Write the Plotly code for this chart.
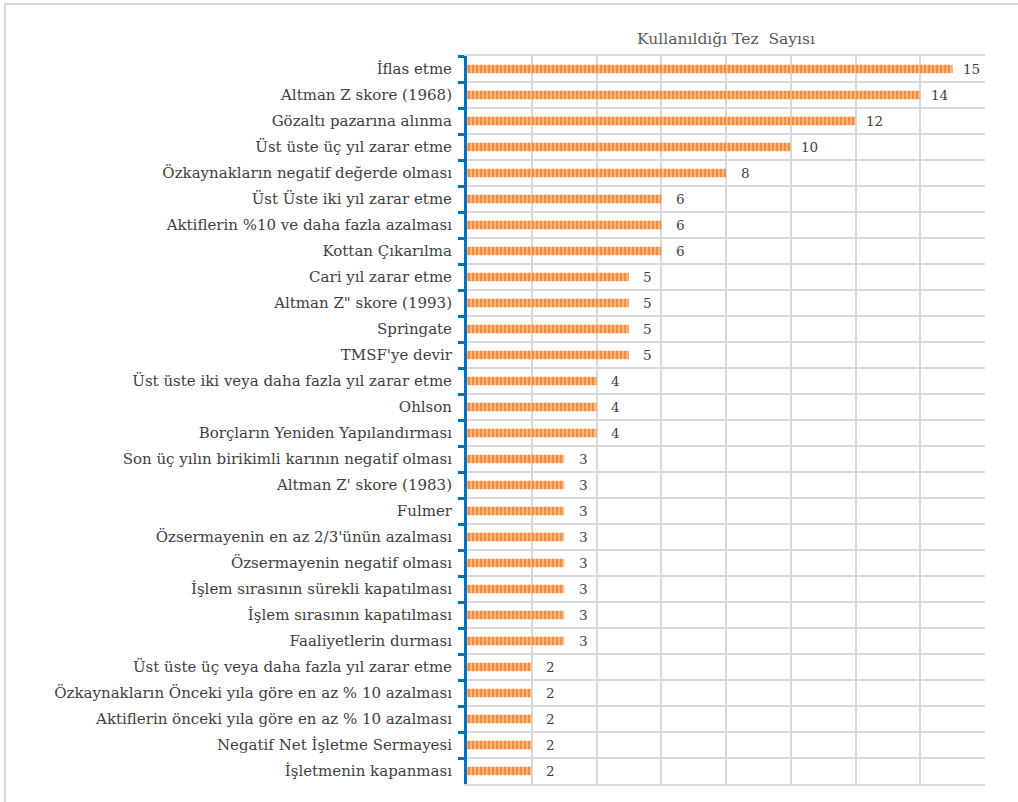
import plotly.graph_objects as go

# Criteria and how many theses used each one
criteria = [
    "İflas etme",
    "Altman Z skore (1968)",
    "Gözaltı pazarına alınma",
    "Üst üste üç yıl zarar etme",
    "Özkaynakların negatif değerde olması",
    "Üst Üste iki yıl zarar etme",
    "Aktiflerin %10 ve daha fazla azalması",
    "Kottan Çıkarılma",
    "Cari yıl zarar etme",
    "Altman Z\" skore (1993)",
    "Springate",
    "TMSF'ye devir",
    "Üst üste iki veya daha fazla yıl zarar etme",
    "Ohlson",
    "Borçların Yeniden Yapılandırması",
    "Son üç yılın birikimli karının negatif olması",
    "Altman Z' skore (1983)",
    "Fulmer",
    "Özsermayenin en az 2/3'ünün azalması",
    "Özsermayenin negatif olması",
    "İşlem sırasının sürekli kapatılması",
    "İşlem sırasının kapatılması",
    "Faaliyetlerin durması",
    "Üst üste üç veya daha fazla yıl zarar etme",
    "Özkaynakların Önceki yıla göre en az % 10 azalması",
    "Aktiflerin önceki yıla göre en az % 10 azalması",
    "Negatif Net İşletme Sermayesi",
    "İşletmenin kapanması",
]
counts = [15, 14, 12, 10, 8, 6, 6, 6, 5, 5, 5, 5, 4, 4, 4, 3, 3, 3, 3, 3, 3, 3, 3, 2, 2, 2, 2, 2]

title_text = "Kullanıldığı Tez\u00a0 Sayısı"

FONT = "DejaVu Serif"

W, H = 1018, 802
L, R, T, B = 467, 33, 56, 18
plot_w = W - L - R
plot_h = H - T - B

fig = go.Figure()
fig.add_trace(go.Bar(
    x=counts,
    y=criteria,
    orientation="h",
    marker=dict(
        color="#F79646",
        line=dict(width=0),
        pattern=dict(shape="|", fillmode="replace", fgcolor="#F68C3C",
                     bgcolor="#FBB981", size=4, solidity=0.5),
    ),
    hoverinfo="x+y",
))

# value labels to the right of each bar
for c, v in zip(criteria, counts):
    fig.add_annotation(x=v, y=c, text=str(v), showarrow=False,
                       xanchor="center", xshift=19,
                       font=dict(family=FONT, size=13.5, color="#404040"))

# outer chart frame
fig.add_shape(type="rect", xref="paper", yref="paper",
              x0=(5 - L) / plot_w, x1=(W + 10 - L) / plot_w,
              y0=-(H + 10 - T - plot_h) / plot_h, y1=1 + (T - 4) / plot_h,
              line=dict(color="#D9D9D9", width=2), layer="below")

fig.update_layout(
    width=W, height=H,
    margin=dict(l=L, r=R, t=T, b=B, autoexpand=False),
    paper_bgcolor="white", plot_bgcolor="white",
    bargap=0.67,
    showlegend=False,
    font=dict(family=FONT, color="#404040"),
    title=dict(text=title_text, x=(L + plot_w / 2) / W, xanchor="center",
               y=1 - 39 / H, yanchor="middle",
               font=dict(family=FONT, size=15.5, color="#595959")),
    xaxis=dict(range=[0, 16], dtick=2, showticklabels=False, showgrid=True,
               gridcolor="#D9D9D9", gridwidth=2, zeroline=False,
               showline=True, mirror=True, linecolor="#D9D9D9", linewidth=2,
               fixedrange=True),
    yaxis=dict(autorange="reversed", tickson="boundaries", ticks="outside",
               ticklen=6, tickwidth=3, tickcolor="#0070C0",
               showline=True, linecolor="#0070C0", linewidth=3,
               showgrid=True, gridcolor="#D9D9D9", gridwidth=2,
               ticklabelstandoff=9,
               tickfont=dict(family=FONT, size=15, color="#404040")),
)

fig.write_html("out.html")
